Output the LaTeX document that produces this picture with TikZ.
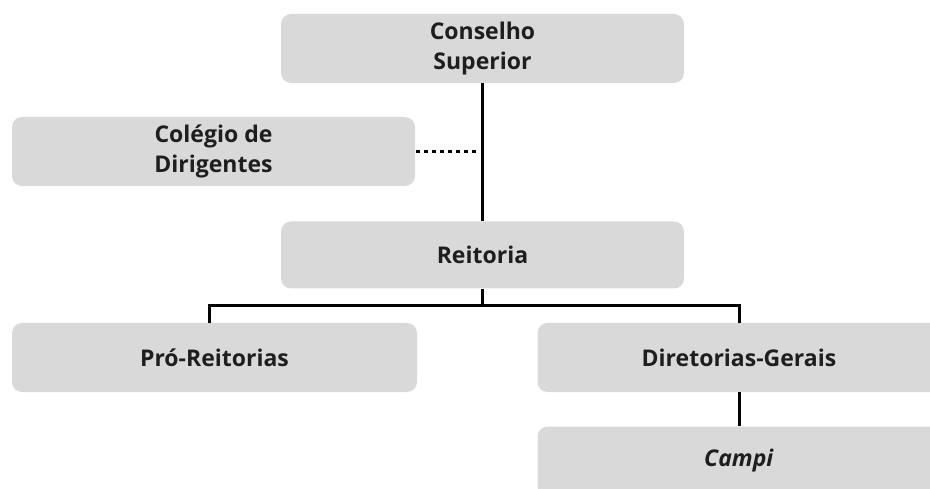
\documentclass[tikz,border=0pt]{standalone}
\usepackage{fontspec}
\setmainfont{Open Sans}
\begin{document}
\begin{tikzpicture}[x=1pt,y=-1pt,
  orgbox/.style={fill=boxgray,rounded corners=10pt,minimum width=403pt,minimum height=69pt,
    align=center,font=\fontsize{23}{30}\selectfont\bfseries,text=textgray,inner sep=0pt},
  conn/.style={line width=3pt,black}]
\definecolor{boxgray}{HTML}{D9D9D9}
\definecolor{textgray}{HTML}{1E1E1E}
\useasboundingbox (0,0) rectangle (930,489);
\node[orgbox] (cs) at (482.5,48.5) {Conselho\\Superior};
\node[orgbox] (cd) at (213.5,151.5) {Colégio de\\Dirigentes};
\node[orgbox,minimum height=67pt] (re) at (482.5,255) {Reitoria};
\node[orgbox,minimum width=405pt] (pr) at (214.5,357.5) {Pró-Reitorias};
\node[orgbox] (dg) at (739,357.5) {Diretorias-Gerais};
\node[orgbox] (ca) at (739,461) {\textit{Campi}};
\coordinate (j) at (482.5,306);
\coordinate (dotend) at (479,151.5);
\coordinate (prtop) at (209,306);
\draw[conn] (cs.south) -- (re.north);
\draw[line width=3.2pt,line cap=butt,dash pattern=on 3.5pt off 4.5pt] (cd.east) ++(1,0) -- (dotend);
\draw[conn] (re.south) -- (j);
\draw[conn,line cap=rect] (prtop) -- (j -| dg.north);
\draw[conn] (prtop) -- (prtop |- pr.north);
\draw[conn] (j -| dg.north) -- (dg.north);
\draw[conn] (dg.south) -- (ca.north);
\end{tikzpicture}
\end{document}
